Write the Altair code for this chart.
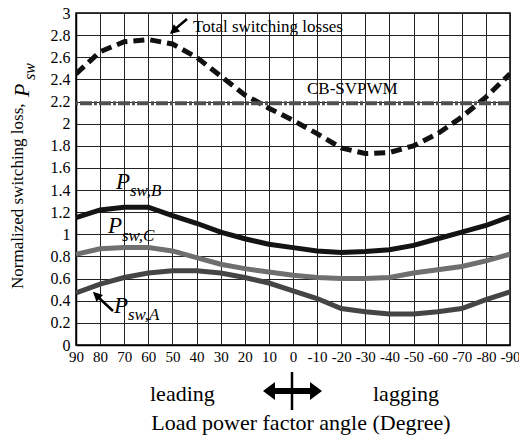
import altair as alt
import pandas as pd

# ---- data ----
angles = [90, 80, 70, 60, 50, 40, 30, 20, 10, 0, -10, -20, -30, -40, -50, -60, -70, -80, -90]
total = [2.45, 2.65, 2.74, 2.76, 2.72, 2.60, 2.43, 2.26, 2.14, 2.03, 1.91, 1.78, 1.73, 1.74, 1.80, 1.91, 2.06, 2.24, 2.45]
psw_b = [1.15, 1.22, 1.245, 1.245, 1.17, 1.10, 1.02, 0.96, 0.91, 0.88, 0.85, 0.835, 0.845, 0.86, 0.90, 0.96, 1.02, 1.08, 1.16]
psw_c = [0.82, 0.87, 0.88, 0.88, 0.85, 0.79, 0.73, 0.69, 0.66, 0.63, 0.61, 0.60, 0.60, 0.61, 0.65, 0.68, 0.71, 0.76, 0.82]
psw_a = [0.47, 0.55, 0.61, 0.65, 0.67, 0.67, 0.65, 0.61, 0.56, 0.49, 0.42, 0.33, 0.30, 0.28, 0.28, 0.30, 0.33, 0.41, 0.48]
cb_svpwm = 2.185

x_ticks = [90, 80, 70, 60, 50, 40, 30, 20, 10, 0, -10, -20, -30, -40, -50, -60, -70, -80, -90]
y_ticks = [0, 0.2, 0.4, 0.6, 0.8, 1, 1.2, 1.4, 1.6, 1.8, 2, 2.2, 2.4, 2.6, 2.8, 3]

SERIF = "Liberation Serif"
W, H = 434, 332
L, T = 76, 13

rows = []
for name, vals in [("total", total), ("B", psw_b), ("C", psw_c), ("A", psw_a)]:
    for a, v in zip(angles, vals):
        rows.append({"angle": a, "value": v, "series": name})
df = pd.DataFrame(rows)

xscale = alt.Scale(domain=[90, -90], nice=False, zero=False)
yscale = alt.Scale(domain=[0, 3], nice=False)

xaxis = alt.Axis(values=x_ticks, grid=True, gridColor="#222", gridWidth=1, gridOpacity=1,
                 ticks=False, domain=True, domainColor="black", domainWidth=1.5,
                 labelFont=SERIF, labelFontSize=15, labelColor="black", labelPadding=4,
                 labelExpr="datum.value + ''", labelFlush=False, labelOverlap=False, title=None)
yaxis = alt.Axis(values=y_ticks, grid=True, gridColor="#222", gridWidth=1, gridOpacity=1,
                 ticks=False, domain=True, domainColor="black", domainWidth=1.5,
                 labelFont=SERIF, labelFontSize=16, labelColor="black", labelPadding=6,
                 format="~g", labelFlush=False, labelOverlap=False, title=None)

base = alt.Chart(df)


def series_line(name, color, width, dash=None):
    kw = dict(color=color, strokeWidth=width, clip=True)
    if dash:
        kw["strokeDash"] = dash
    return base.transform_filter(alt.datum.series == name).mark_line(**kw).encode(
        x=alt.X("angle:Q", scale=xscale, axis=xaxis),
        y=alt.Y("value:Q", scale=yscale, axis=yaxis),
    )


lines = [
    series_line("total", "#111111", 5, [11, 6]),
    series_line("A", "#454545", 5),
    series_line("C", "#6f6f6f", 5),
    series_line("B", "#141414", 5),
]

cb_line = alt.Chart(pd.DataFrame({"v": [cb_svpwm]})).mark_rule(
    color="#505050", strokeWidth=4, strokeDash=[12, 2, 3, 2]
).encode(y=alt.Y("v:Q", scale=yscale, axis=yaxis))

one = pd.DataFrame({"k": [0]})


def txt(s, px, py, size, italic=False, angle=0, align="left", baseline="alphabetic"):
    kw = dict(text=s, font=SERIF, fontSize=size, color="black", align=align, baseline=baseline)
    if italic:
        kw["fontStyle"] = "italic"
    if angle:
        kw["angle"] = angle
    return alt.Chart(one).mark_text(**kw).encode(x=alt.value(px - L), y=alt.value(py - T))


def rule(x1, y1, x2, y2, w, color="black"):
    return alt.Chart(one).mark_rule(color=color, strokeWidth=w).encode(
        x=alt.value(x1 - L), y=alt.value(y1 - T), x2=alt.value(x2 - L), y2=alt.value(y2 - T))


def head(px, py, size, angle, path="M-1,-1 L1,0 L-1,1 Z"):
    return alt.Chart(one).mark_point(shape=path, filled=True, color="black", opacity=1,
                                      size=size, angle=angle, strokeWidth=0).encode(
        x=alt.value(px - L), y=alt.value(py - T))


annos = [
    # total switching losses label with arrow
    txt("Total switching losses", 193, 32, 17),
    rule(187, 19, 174, 30, 2.5),
    head(173.4, 31.0, 90, 139),
    # CB-SVPWM
    txt("CB-SVPWM", 307, 94, 17),
    # Psw,B
    txt("P", 116, 189, 23, italic=True),
    txt("sw,B", 130, 196, 17, italic=True),
    # Psw,C
    txt("P", 108, 233, 23, italic=True),
    txt("sw,C", 122, 241, 17, italic=True),
    # Psw,A with arrow
    txt("P", 114, 313, 23, italic=True),
    txt("sw,A", 128, 320, 17, italic=True),
    rule(113, 311, 98, 297, 2.5),
    head(96.3, 295.1, 90, 223.5),
    # y title
    txt("Normalized switching loss,", 23, 289, 17, angle=270),
    txt("P", 29, 97, 22, italic=True, angle=270),
    txt("sw", 35, 80, 16, italic=True, angle=270),
    # bottom annotations
    txt("leading", 150, 401, 22),
    txt("lagging", 373, 401, 22),
    rule(272, 391, 312, 391, 6),
    head(316, 391, 324, 0, "M-0.67,-1 L0.67,0 L-0.67,1 Z"),
    head(269, 391, 324, 0, "M0.67,-1 L-0.67,0 L0.67,1 Z"),
    rule(292, 372, 292, 410, 2.5),
    txt("Load power factor angle (Degree)", 301, 430, 22, align="center"),
]

chart = alt.layer(*lines, cb_line, *annos).properties(
    width=W, height=H,
    autosize=alt.AutoSizeParams(type="none"),
    padding={"left": L, "top": T, "right": 519 - L - W, "bottom": 439 - T - H},
    background="white",
).configure_view(stroke="black", strokeWidth=1.5)

chart.save("out.html", embed_options={"renderer": "svg", "actions": False})
